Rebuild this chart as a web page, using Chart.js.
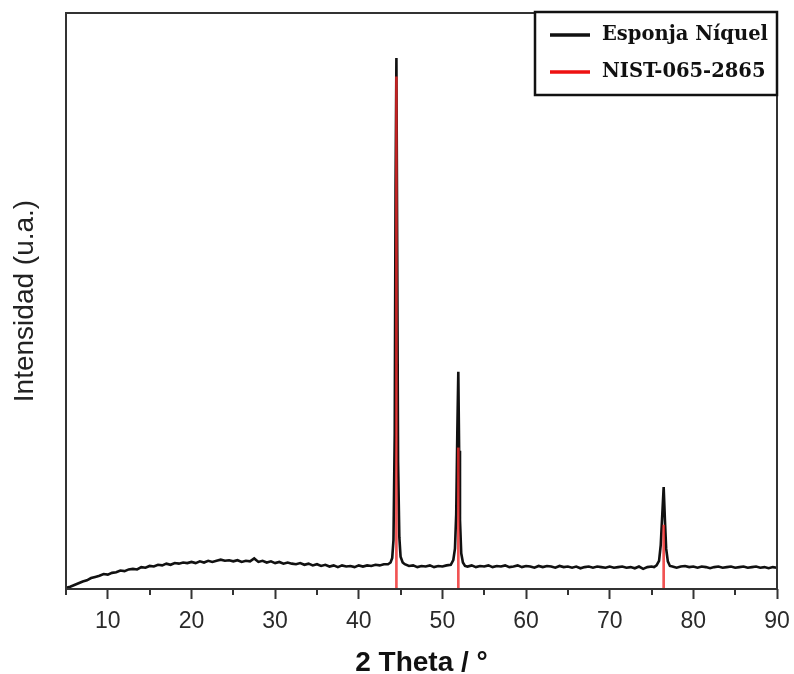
<!DOCTYPE html>
<html>
<head>
<meta charset="utf-8">
<script src="https://cdn.jsdelivr.net/npm/chart.js@4/dist/chart.umd.min.js"></script>
<style>
  html, body { margin: 0; padding: 0; background: #ffffff; }
  #wrap { width: 794px; height: 674px; }
</style>
</head>
<body>
<div id="wrap"><canvas id="xrd" width="794" height="674"></canvas></div>
<script>
// Diffractogram of the nickel sponge (2θ in degrees, intensity in arbitrary units)
const twoTheta = [
  5.0, 5.5, 6.0, 6.5, 7.0, 7.5, 8.0, 8.5, 9.0, 9.5,
  10.0, 10.5, 11.0, 11.5, 12.0, 12.5, 13.0, 13.5, 14.0, 14.5,
  15.0, 15.5, 16.0, 16.5, 17.0, 17.5, 18.0, 18.5, 19.0, 19.5,
  20.0, 20.5, 21.0, 21.5, 22.0, 22.5, 23.0, 23.5, 24.0, 24.5,
  25.0, 25.5, 26.0, 26.5, 27.0, 27.5, 28.0, 28.5, 29.0, 29.5,
  30.0, 30.5, 31.0, 31.5, 32.0, 32.5, 33.0, 33.5, 34.0, 34.5,
  35.0, 35.5, 36.0, 36.5, 37.0, 37.5, 38.0, 38.5, 39.0, 39.5,
  40.0, 40.5, 41.0, 41.5, 42.0, 42.5, 43.0, 43.5, 43.8, 44.0,
  44.15, 44.3, 44.4, 44.5, 44.6, 44.7, 44.85, 45.0, 45.25, 45.5,
  46.0, 46.5, 47.0, 47.5, 48.0, 48.5, 49.0, 49.5, 50.0, 50.5,
  51.0, 51.3, 51.5, 51.65, 51.78, 51.9, 52.0, 52.1, 52.25, 52.45,
  52.7, 53.0, 53.5, 54.0, 54.5, 55.0, 55.5, 56.0, 56.5, 57.0,
  57.5, 58.0, 58.5, 59.0, 59.5, 60.0, 60.5, 61.0, 61.5, 62.0,
  62.5, 63.0, 63.5, 64.0, 64.5, 65.0, 65.5, 66.0, 66.5, 67.0,
  67.5, 68.0, 68.5, 69.0, 69.5, 70.0, 70.5, 71.0, 71.5, 72.0,
  72.5, 73.0, 73.5, 74.0, 74.5, 75.0, 75.3, 75.6, 75.9, 76.1,
  76.28, 76.45, 76.6, 76.75, 76.95, 77.2, 77.5, 78.0, 78.5, 79.0,
  79.5, 80.0, 80.5, 81.0, 81.5, 82.0, 82.5, 83.0, 83.5, 84.0,
  84.5, 85.0, 85.5, 86.0, 86.5, 87.0, 87.5, 88.0, 88.5, 89.0,
  89.5, 90.0
];
const intensity = [
  0.2, 0.4, 0.7, 1.0, 1.3, 1.5, 1.9, 2.1, 2.3, 2.6,
  2.5, 2.8, 2.9, 3.2, 3.1, 3.4, 3.5, 3.4, 3.8, 3.7,
  4.0, 3.9, 4.2, 4.1, 4.4, 4.2, 4.5, 4.4, 4.6, 4.5,
  4.7, 4.5, 4.8, 4.6, 4.9, 4.7, 4.9, 5.1, 4.9, 5.0,
  4.8, 5.0, 4.7, 4.9, 4.8, 5.3, 4.7, 4.9, 4.6, 4.8,
  4.5, 4.7, 4.4, 4.6, 4.4, 4.3, 4.5, 4.2, 4.4, 4.1,
  4.3, 4.0, 4.2, 3.9, 4.1, 3.8, 4.1, 3.9, 4.0, 3.8,
  4.1, 3.9, 4.1, 4.0, 4.2, 4.1, 4.3, 4.3, 4.6, 5.4,
  8.5, 27.0, 70.0, 92.2, 58.0, 22.0, 9.0, 5.6, 4.6, 4.3,
  4.0, 4.1, 3.8, 4.0, 3.9, 4.1, 3.8, 4.0, 3.9, 4.1,
  4.2, 5.0, 7.0, 13.0, 27.0, 37.7, 24.0, 12.0, 6.2, 4.6,
  4.0, 3.9, 4.1, 3.8, 4.0, 3.9, 4.1, 3.8, 4.0, 3.9,
  4.1, 3.8, 3.9, 4.1, 3.8, 4.0, 3.9, 3.7, 4.0, 3.8,
  4.0, 3.9, 3.7, 4.0, 3.8, 3.9, 3.7, 3.9, 3.6, 3.8,
  3.9, 3.7, 3.9, 3.8, 3.7, 3.9, 3.7, 3.8, 3.9, 3.7,
  3.8, 3.6, 3.9, 3.5, 3.8, 3.9, 3.8, 4.1, 4.9, 7.6,
  12.8, 17.7, 12.0, 7.0, 4.8, 4.0, 3.9, 3.7, 3.9, 4.0,
  3.8, 3.9, 3.7, 3.9, 3.8, 3.6, 3.8, 3.9, 3.7, 3.8,
  3.9, 3.7, 3.8, 3.9, 3.7, 3.8, 3.9, 3.7, 3.8, 3.6,
  3.8, 3.7
];

// Reference pattern NIST-065-2865 (Ni, fcc): line positions and relative heights
const refPositions = [44.5, 51.9, 76.45];
const refIntensity = [88.9, 24.5, 11.1];

// Axis ticks
const majorTicks = [10, 20, 30, 40, 50, 60, 70, 80, 90];
const minorTicks = [5, 15, 25, 35, 45, 55, 65, 75, 85];

const seriesLabels = ['Esponja Níquel', 'NIST-065-2865'];
const xTitle = '2 Theta / °';
const yTitle = 'Intensidad (u.a.)';

const sansFamily = "'Liberation Sans', Arial, sans-serif";
const frameColor = '#333333';

// Closed frame around the plot area plus short minor ticks on the bottom axis
const framePlugin = {
  id: 'frame',
  afterDraw(chart) {
    const { ctx, chartArea: a, scales } = chart;
    ctx.save();
    ctx.strokeStyle = frameColor;
    ctx.lineWidth = 2;
    ctx.strokeRect(a.left, a.top, a.right - a.left, a.bottom - a.top);
    ctx.beginPath();
    minorTicks.forEach(v => {
      const px = Math.round(scales.x.getPixelForValue(v));
      ctx.moveTo(px, a.bottom);
      ctx.lineTo(px, a.bottom + 6);
    });
    ctx.stroke();
    ctx.restore();
  }
};

// Boxed legend in the upper-right corner of the plot
const boxLegendPlugin = {
  id: 'boxLegend',
  afterDraw(chart) {
    const { ctx, chartArea: a } = chart;
    const w = 242, h = 83;
    const x0 = a.right - w, y0 = a.top - 1;
    ctx.save();
    ctx.fillStyle = '#ffffff';
    ctx.fillRect(x0, y0, w, h);
    ctx.strokeStyle = '#111111';
    ctx.lineWidth = 2.5;
    ctx.strokeRect(x0, y0, w, h);
    const rows = [
      { ds: chart.data.datasets[0], y: y0 + 23 },
      { ds: chart.data.datasets[1], y: y0 + 60 }
    ];
    ctx.font = "bold 19.5px 'DejaVu Serif', serif";
    ctx.textBaseline = 'middle';
    ctx.textAlign = 'left';
    rows.forEach(r => {
      ctx.strokeStyle = r.ds.legendColor;
      ctx.lineWidth = 3.5;
      ctx.beginPath();
      ctx.moveTo(x0 + 15, r.y);
      ctx.lineTo(x0 + 55, r.y);
      ctx.stroke();
      ctx.fillStyle = '#111111';
      ctx.fillText(r.ds.label, x0 + 67, r.y);
    });
    ctx.restore();
  }
};

new Chart(document.getElementById('xrd'), {
  type: 'line',
  data: {
    datasets: [
      {
        type: 'line',
        label: seriesLabels[0],
        data: twoTheta.map((t, i) => ({ x: t, y: intensity[i] })),
        borderColor: '#111111',
        legendColor: '#111111',
        borderWidth: 2.6,
        pointRadius: 0,
        tension: 0,
        order: 2
      },
      {
        type: 'bar',
        label: seriesLabels[1],
        data: refPositions.map((p, i) => ({ x: p, y: refIntensity[i] })),
        backgroundColor: 'rgba(238, 40, 40, 0.8)',
        legendColor: '#ee1111',
        borderWidth: 0,
        barThickness: 2,
        order: 1
      }
    ]
  },
  options: {
    responsive: false,
    animation: false,
    events: [],
    layout: { padding: { top: 13, right: 17, left: 0, bottom: 0 } },
    plugins: {
      legend: { display: false },
      tooltip: { enabled: false }
    },
    scales: {
      x: {
        type: 'linear',
        min: 5,
        max: 90,
        offset: false,
        afterBuildTicks: scale => { scale.ticks = majorTicks.map(v => ({ value: v })); },
        afterFit: scale => {
          scale.height = 85;
          scale.paddingLeft = 0;
          scale.paddingRight = 0;
        },
        ticks: {
          autoSkip: false,
          maxRotation: 0,
          padding: 9,
          color: '#2a2a2a',
          font: { family: sansFamily, size: 23 }
        },
        grid: {
          display: true,
          offset: false,
          drawOnChartArea: false,
          tickLength: 10,
          tickWidth: 2,
          tickColor: frameColor
        },
        border: { display: false },
        title: {
          display: true,
          text: xTitle,
          color: '#111111',
          font: { family: sansFamily, size: 28, weight: 'bold', lineHeight: 1 },
          padding: { top: 0, bottom: -3 }
        }
      },
      y: {
        type: 'linear',
        min: 0,
        max: 100,
        afterFit: scale => { scale.width = 66; },
        ticks: { display: false },
        grid: { display: false },
        border: { display: false },
        title: {
          display: true,
          text: yTitle,
          color: '#222222',
          font: { family: sansFamily, size: 28 },
          padding: { top: 8, bottom: 0 }
        }
      }
    }
  },
  plugins: [framePlugin, boxLegendPlugin]
});
</script>
</body>
</html>
